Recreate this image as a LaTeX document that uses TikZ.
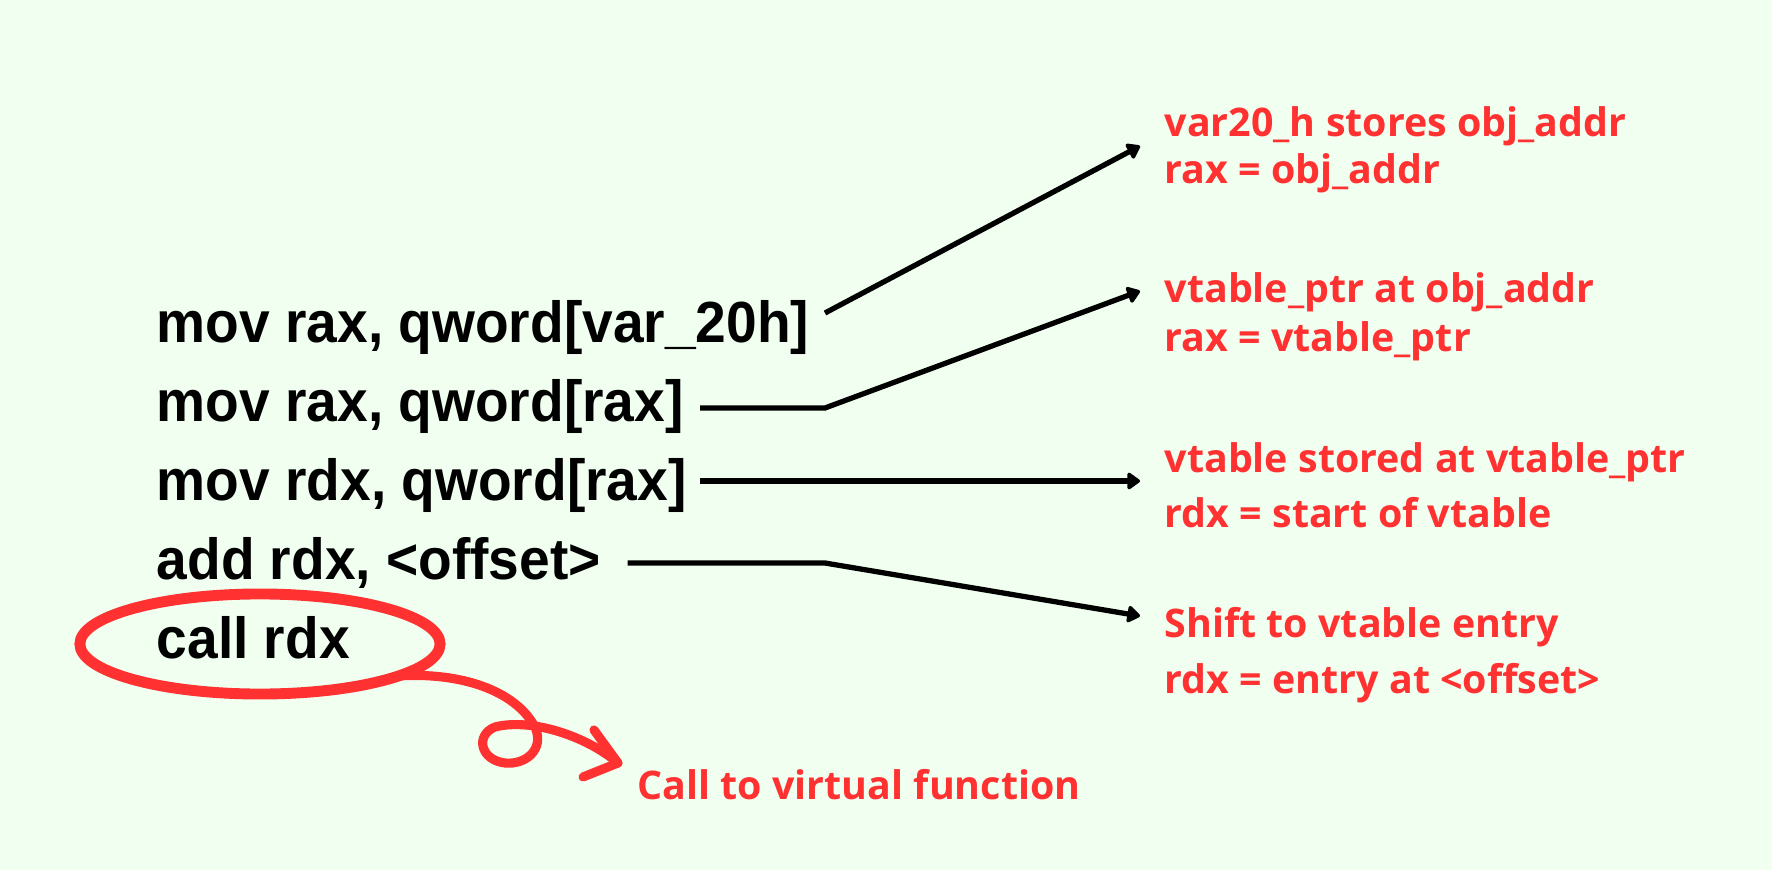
\documentclass[tikz,border=0pt]{standalone}
\usepackage{fontspec}
\setmainfont{Open Sans}
\newfontfamily\codefont[FakeStretch=0.95]{Liberation Sans}
\usetikzlibrary{arrows.meta,calc,shapes.geometric}
\definecolor{mint}{RGB}{240,255,240}
\definecolor{notered}{RGB}{255,49,49}

\begin{document}
\begin{tikzpicture}[x=0.01cm,y=-0.01cm,
  instr/.style={anchor=base west,inner sep=0pt,font=\codefont\bfseries\fontsize{16.5}{18}\selectfont},
  note/.style={anchor=base west,inner sep=0pt,text=notered,font=\bfseries\fontsize{11.2}{13}\selectfont},
  link/.style={line width=1.5pt,-{Triangle[length=4pt,width=5.4pt,round]}},
  tail/.style={notered,line width=2.6pt,line cap=round,line join=round}]
\fill[mint] (0,0) rectangle (1772,870);

\node[instr] (i1) at (156,343) {mov rax, qword[var\_20h]};
\node[instr] (i2) at (156,421) {mov rax, qword[rax]};
\node[instr] (i3) at (156,500) {mov rdx, qword[rax]};
\node[instr] (i4) at (156,579) {add rdx, <offset>};
\node[instr] (i5) at (156,658) {call rdx};

\node[note] (n1a) at (1164,137) {var20\_h stores obj\_addr};
\node[note] (n1b) at (1164,184) {rax = obj\_addr};
\node[note] (n2a) at (1164,303) {vtable\_ptr at obj\_addr};
\node[note] (n2b) at (1164,352) {rax = vtable\_ptr};
\node[note] (n3a) at (1164,472) {vtable stored at vtable\_ptr};
\node[note] (n3b) at (1164,527) {rdx = start of vtable};
\node[note] (n4a) at (1164,637) {Shift to vtable entry};
\node[note] (n4b) at (1164,693) {rdx = entry at <offset>};
\node[note] (callnote) at (637,799) {Call to virtual function};

\coordinate (kink) at (825,0);
\coordinate (lead) at (700,0);
\draw[link] ($(kink |- i1.base)+(0,-30)$) -- ($(n1a.base west)+(-24,9)$);
\draw[link] ($(lead |- i2.base)+(0,-13)$) coordinate (s2) -- (kink |- s2) -- ($(n2a.base west)+(-24,-12)$);
\draw[link] ($(lead |- i3.base)+(0,-19)$) -- ($(n3a.base west)+(-24,9)$);
\draw[link] ($(i4.base east)+(26,-16)$) coordinate (s4) -- (kink |- s4) -- ($(n4a.base west)+(-24,-21)$);

\node[draw=notered,line width=3.1pt,ellipse,minimum width=3.6cm,minimum height=1cm,inner sep=0pt,outer sep=0pt] (ring) at (260,644) {};
\coordinate (tip) at ($(callnote.base west)+(-19,-36)$);
\draw[tail] (ring.-13) .. controls (460,672) and (515,690) .. (535,727)
  .. controls (545,750) and (525,765) .. (505,763)
  .. controls (480,760) and (475,735) .. (495,727)
  .. controls (530,718) and (585,735) .. (tip);
\draw[tail] ($(tip)+(-24,-33)$) -- (tip) -- ($(tip)+(-35,14)$);
\end{tikzpicture}
\end{document}
